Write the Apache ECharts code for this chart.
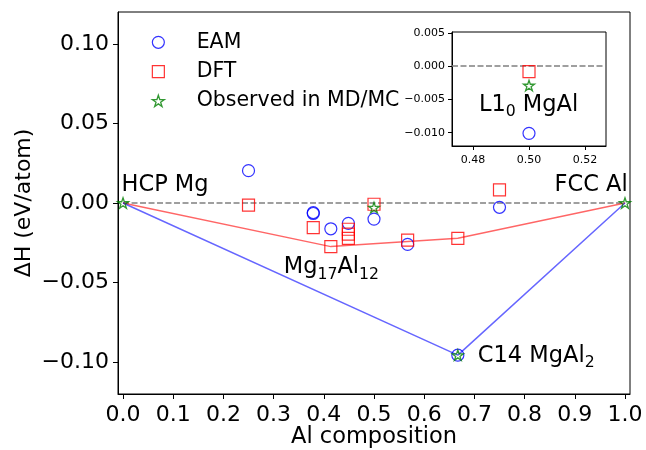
<!DOCTYPE html>
<html>
<head>
<meta charset="utf-8">
<script src="https://cdn.jsdelivr.net/npm/echarts@6/dist/echarts.min.js"></script>
<style>html,body{margin:0;padding:0;background:#fff;}#c{width:646px;height:450px;}</style>
</head>
<body>
<div id="c"></div>
<script>
// ---- data ----
const eamX = [0.25, 0.379, 0.379, 0.414, 0.449, 0.5, 0.567, 0.667, 0.75];
const eamY = [0.0203, -0.0060, -0.0066, -0.0162, -0.0128, -0.0101, -0.0260, -0.0956, -0.0027];
const dftX = [0.25, 0.379, 0.414, 0.449, 0.449, 0.449, 0.5, 0.567, 0.667, 0.75];
const dftY = [-0.0013, -0.0155, -0.0274, -0.0165, -0.0195, -0.0222, -0.0008, -0.0233, -0.0222, 0.0082];
const obsX = [0.0, 0.5, 0.667, 1.0];
const obsY = [0.0, -0.0029, -0.0956, 0.0];
const dftHullX = [0.0, 0.414, 0.667, 1.0];
const dftHullY = [0.0, -0.0274, -0.0222, 0.0];
const eamHullX = [0.0, 0.667, 1.0];
const eamHullY = [0.0, -0.0956, 0.0];
const zeroLineX = [0.0, 1.0];
const xTicks = [0, 0.1, 0.2, 0.3, 0.4, 0.5, 0.6, 0.7, 0.8, 0.9, 1.0];
const yTicks = [-0.10, -0.05, 0.00, 0.05, 0.10];
const insetXTicks = [0.48, 0.50, 0.52];
const insetYTicks = [-0.010, -0.005, 0.000, 0.005];
const seriesNames = ['EAM', 'DFT', 'Observed in MD/MC'];
// annotation texts (anchored in data units)
const mainLabels = [
  {x: -0.003, y: 0.0110, text: '{t|HCP Mg}'},
  {x: 0.8596, y: 0.0110, text: '{t|FCC Al}'},
  {x: 0.3203, y: -0.0405, text: '{t|Mg}{s|17}{t|Al}{s|12}'},
  {x: 0.7068, y: -0.0960, text: '{t|C14 MgAl}{s|2}'}
];
const insetLabels = [
  {x: 0.4821, y: -0.0058, text: '{t|L1}{s|0}{t| MgAl}'}
];

const zip = (xs, ys) => xs.map((x, i) => [x, ys[i]]);
const FONT = 'DejaVu Sans';
const minus = s => s.replace('-', '\u2212');
const starPath = 'path://M50 0 L61.2 34.5 L97.6 34.5 L68.2 55.9 L79.4 90.5 L50 69.1 L20.6 90.5 L31.8 55.9 L2.4 34.5 L38.8 34.5 Z';

const rich = {
  t: {fontFamily: FONT, fontSize: 22.5, lineHeight: 30, color: '#000', textBorderWidth: 0},
  s: {fontFamily: FONT, fontSize: 15.7, lineHeight: 16, verticalAlign: 'bottom', color: '#000', textBorderWidth: 0}
};

const markStyle = {
  EAM: {color: 'rgba(0,0,0,0)', borderColor: '#0000ff', borderWidth: 1.2},
  DFT: {color: 'rgba(0,0,0,0)', borderColor: '#ff0000', borderWidth: 1.2},
  OBS: {color: 'rgba(0,0,0,0)', borderColor: '#008000', borderWidth: 1.3}
};
const styles = {
  EAM: {symbol: 'circle', symbolSize: 12, itemStyle: markStyle.EAM},
  DFT: {symbol: 'rect', symbolSize: 12, itemStyle: markStyle.DFT},
  OBS: {symbol: starPath, symbolSize: 11, symbolKeepAspect: true, itemStyle: markStyle.OBS}
};

function scatter(name, st, data, axis) {
  return Object.assign({
    name: name, type: 'scatter', xAxisIndex: axis, yAxisIndex: axis,
    data: data, clip: true, emphasis: {disabled: true}, z: 5
  }, st);
}

function labelSeries(list, axis) {
  return {
    type: 'scatter', xAxisIndex: axis, yAxisIndex: axis, symbolSize: 0, silent: true, z: 6,
    emphasis: {disabled: true},
    itemStyle: {color: '#000', opacity: 1},
    data: list.map(a => ({value: [a.x, a.y], label: {formatter: a.text}})),
    label: {show: true, position: [0, 0], align: 'left', verticalAlign: 'middle', color: '#000',
      textBorderWidth: 0, opacity: 1, rich: rich}
  };
}

const axisCommon = {
  axisLine: {show: true, onZero: false, lineStyle: {color: '#000', width: 1}},
  splitLine: {show: false},
  nameMoveOverlap: false
};

const option = {
  animation: false,
  backgroundColor: '#fff',
  textStyle: {fontFamily: FONT},
  grid: [
    {left: 118, top: 12, width: 512, height: 382, show: true, borderColor: '#000', borderWidth: 1,
      backgroundColor: 'transparent', containLabel: false, outerBoundsMode: 'none'},
    {left: 452, top: 32, width: 154, height: 114, show: true, borderColor: '#000', borderWidth: 1,
      backgroundColor: '#fff', containLabel: false, outerBoundsMode: 'none'}
  ],
  xAxis: [
    Object.assign({}, axisCommon, {
      type: 'value', gridIndex: 0, min: -0.01, max: 1.01,
      name: 'Al composition', nameLocation: 'middle', nameGap: 32,
      nameTextStyle: {fontFamily: FONT, fontSize: 22.5, color: '#000'},
      axisTick: {show: true, inside: false, length: 5, customValues: xTicks, lineStyle: {color: '#000'}},
      axisLabel: {customValues: xTicks, margin: 10, fontFamily: FONT, fontSize: 22, color: '#000', formatter: v => minus(v.toFixed(1))}
    }),
    Object.assign({}, axisCommon, {
      type: 'value', gridIndex: 1, min: 0.4725, max: 0.5275,
      axisTick: {show: true, inside: false, length: 4, customValues: insetXTicks, lineStyle: {color: '#000'}},
      axisLabel: {customValues: insetXTicks, margin: 9, fontFamily: FONT, fontSize: 11, color: '#000', formatter: v => v.toFixed(2)}
    })
  ],
  yAxis: [
    Object.assign({}, axisCommon, {
      type: 'value', gridIndex: 0, min: -0.12, max: 0.12,
      name: '\u0394H (eV/atom)', nameLocation: 'middle', nameGap: 83, nameRotate: 90,
      nameTextStyle: {fontFamily: FONT, fontSize: 22, color: '#000'},
      axisTick: {show: true, inside: false, length: 5, customValues: yTicks, lineStyle: {color: '#000'}},
      axisLabel: {customValues: yTicks, margin: 9, fontFamily: FONT, fontSize: 22, color: '#000', formatter: v => minus(v.toFixed(2))}
    }),
    Object.assign({}, axisCommon, {
      type: 'value', gridIndex: 1, min: -0.012, max: 0.00515,
      axisTick: {show: true, inside: false, length: 4, customValues: insetYTicks, lineStyle: {color: '#000'}},
      axisLabel: {customValues: insetYTicks, margin: 7, fontFamily: FONT, fontSize: 11, color: '#000', formatter: v => minus(v.toFixed(3))}
    })
  ],
  legend: {
    orient: 'vertical', left: 151.7, top: 31.8, padding: 0,
    itemWidth: 12, itemHeight: 12, itemGap: 8.3,
    selectedMode: false,
    formatter: name => '{sp|}{n|' + name + '}',
    textStyle: {fontFamily: FONT, fontSize: 20.5, lineHeight: 21, color: '#000',
      rich: {sp: {width: 27.3}, n: {fontFamily: FONT, fontSize: 20.5, lineHeight: 21, color: '#000'}}},
    data: [
      {name: seriesNames[0], icon: 'circle', itemStyle: markStyle.EAM},
      {name: seriesNames[1], icon: 'rect', itemStyle: markStyle.DFT},
      {name: seriesNames[2], icon: starPath, itemStyle: markStyle.OBS}
    ]
  },
  series: [
    {type: 'line', xAxisIndex: 0, yAxisIndex: 0, data: zip(zeroLineX, zeroLineX.map(() => 0)), showSymbol: false, symbol: 'none', silent: true,
      lineStyle: {color: '#808080', width: 1.5, type: [6, 2.5]}, z: 2},
    {type: 'line', xAxisIndex: 0, yAxisIndex: 0, data: zip(dftHullX, dftHullY), showSymbol: false, symbol: 'none', silent: true,
      lineStyle: {color: 'rgba(255,0,0,0.6)', width: 1.5}, z: 3},
    {type: 'line', xAxisIndex: 0, yAxisIndex: 0, data: zip(eamHullX, eamHullY), showSymbol: false, symbol: 'none', silent: true,
      lineStyle: {color: 'rgba(0,0,255,0.6)', width: 1.5}, z: 3},
    scatter(seriesNames[0], styles.EAM, zip(eamX, eamY), 0),
    scatter(seriesNames[1], styles.DFT, zip(dftX, dftY), 0),
    scatter(seriesNames[2], styles.OBS, zip(obsX, obsY), 0),
    Object.assign(scatter(seriesNames[0], styles.EAM, zip(eamX, eamY), 1), {
      markLine: {silent: true, symbol: 'none', label: {show: false}, lineStyle: {color: '#808080', width: 1.5, type: [6, 2.5]}, data: [{yAxis: 0}]}
    }),
    scatter(seriesNames[1], styles.DFT, zip(dftX, dftY), 1),
    scatter(seriesNames[2], styles.OBS, zip(obsX, obsY), 1),
    labelSeries(mainLabels, 0),
    labelSeries(insetLabels, 1)
  ]
};

const chart = echarts.init(document.getElementById('c'), null, {renderer: 'canvas'});
chart.setOption(option);
</script>
</body>
</html>
